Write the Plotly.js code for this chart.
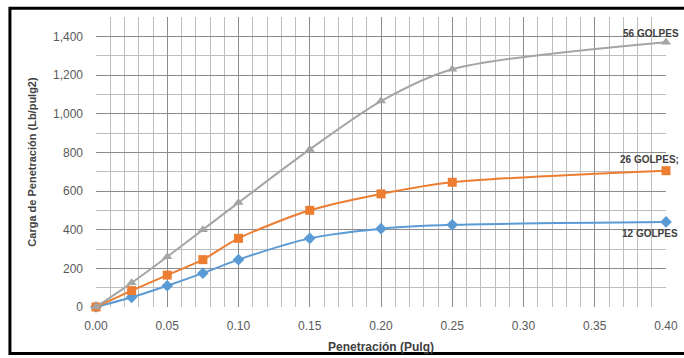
<!DOCTYPE html>
<html><head><meta charset="utf-8">
<script src="https://cdn.plot.ly/plotly-3.0.1.min.js"></script>
<style>html,body{margin:0;padding:0;background:#fff}#c{width:684px;height:358px}</style>
</head><body><div id="c"></div>
<script>
const penetracion = [0, 0.025, 0.05, 0.075, 0.10, 0.15, 0.20, 0.25, 0.40];
const golpes56 = [0, 125, 260, 400, 540, 815, 1065, 1230, 1370];
const golpes26 = [0, 85, 165, 245, 355, 500, 585, 645, 705];
const golpes12 = [0, 50, 110, 175, 245, 355, 405, 425, 440];
const seriesNames = ["56 GOLPES", "26 GOLPES;", "12 GOLPES"];
const yTickStep = 200, yMinorStep = 100;
const xTickStep = 0.05, xMinorStep = 0.01;
const xRange = [0, 0.40], yRange = [0, 1500];

const font = "Liberation Sans Narrow, Arial Narrow, Liberation Sans, Arial, sans-serif";
function tr(y, name, color, symbol, size) {
  return {x: penetracion, y: y, name: name, type: 'scatter', mode: 'lines+markers',
    line: {color: color, width: 2, shape: 'spline', smoothing: 0.8},
    marker: {color: color, symbol: symbol, size: size}, cliponaxis: false};
}
const data = [
  tr(golpes12, seriesNames[2], '#5b9bd5', 'diamond', 9),
  tr(golpes26, seriesNames[1], '#ed7d31', 'square', 9),
  tr(golpes56, seriesNames[0], '#a5a5a5', 'triangle-up', 9)
];
const last = penetracion.length - 1;
const annotations = [
  {x: penetracion[last], y: golpes56[last], text: seriesNames[0], xanchor: 'right', yanchor: 'bottom', yshift: 1, xshift: 15},
  {x: penetracion[last], y: golpes26[last], text: seriesNames[1], xanchor: 'right', yanchor: 'bottom', yshift: 4, xshift: 15},
  {x: penetracion[last], y: golpes12[last], text: seriesNames[2], xanchor: 'right', yanchor: 'top', yshift: -4, xshift: 14}
].map(a => Object.assign(a, {xref: 'x', yref: 'y', showarrow: false,
  font: {family: font, size: 10, color: '#404040', weight: 'bold'}}));
const tickfont = {family: font, size: 12, color: '#595959'};
const layout = {
  width: 684, height: 358,
  margin: {l: 96, r: 18, t: 17, b: 51},
  paper_bgcolor: '#fff', plot_bgcolor: '#fff',
  showlegend: false,
  xaxis: {range: xRange, tickmode: 'linear', tick0: 0, dtick: xTickStep, tickformat: '.2f',
    showgrid: true, gridcolor: '#8c8c8c', gridwidth: 1, zeroline: false,
    showline: false, ticks: '', ticklabelstandoff: 10, tickfont: tickfont,
    minor: {tickmode: 'linear', tick0: 0, dtick: xMinorStep, showgrid: true, gridcolor: '#bdbdbd', gridwidth: 1},
    title: {text: 'Penetración (Pulg)', font: {family: font, size: 12, color: '#404040', weight: 'bold'}, standoff: 10}},
  yaxis: {range: yRange, tickmode: 'linear', tick0: 0, dtick: yTickStep, tickformat: ',',
    showgrid: true, gridcolor: '#8c8c8c', gridwidth: 1, zeroline: false,
    showline: false, ticks: '', ticklabelstandoff: 12, tickfont: tickfont,
    minor: {tickmode: 'linear', tick0: 0, dtick: yMinorStep, showgrid: true, gridcolor: '#bdbdbd', gridwidth: 1},
    title: {text: 'Carga de Penetración (Lb/pulg2)', font: {family: font, size: 11, color: '#404040', weight: 'bold'}, standoff: 14}},
  annotations: annotations,
  shapes: [
    {type: 'rect', xref: 'paper', yref: 'paper', x0: -0.151, x1: 1.3, y0: -0.16, y1: 1.03,
     line: {color: '#000', width: 3}, fillcolor: 'rgba(0,0,0,0)', layer: 'below'}
  ]
};
Plotly.newPlot('c', data, layout, {displayModeBar: false, staticPlot: true});
</script></body></html>
